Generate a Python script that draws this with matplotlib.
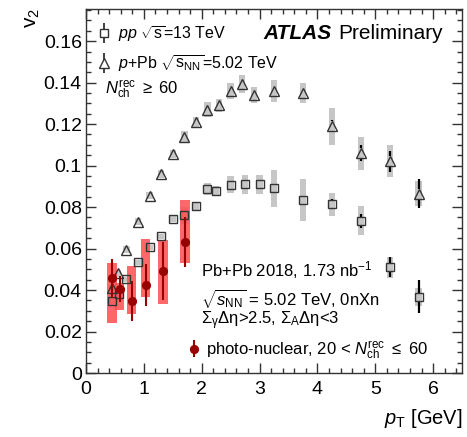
import numpy as np
import matplotlib
matplotlib.use("Agg")
import matplotlib.pyplot as plt
from matplotlib.patches import Rectangle
from matplotlib.ticker import MultipleLocator, FuncFormatter
from matplotlib.legend_handler import HandlerErrorbar

plt.rcParams['font.family'] = ['Liberation Sans', 'DejaVu Sans']
plt.rcParams['mathtext.fontset'] = 'custom'
plt.rcParams['mathtext.rm'] = 'Liberation Sans'
plt.rcParams['mathtext.it'] = 'Liberation Sans:italic'
plt.rcParams['mathtext.bf'] = 'Liberation Sans:bold'

# ---- data: pp 13 TeV, Nch_rec >= 60 ----
x_pp = [0.45, 0.575, 0.7, 0.9, 1.1, 1.3, 1.5, 1.7, 1.9, 2.1, 2.25, 2.5, 2.75, 3.0, 3.25, 3.75, 4.25, 4.75, 5.25, 5.75]
v2_pp = [0.0347, 0.038, 0.0453, 0.0535, 0.0607, 0.066, 0.0742, 0.076, 0.0805, 0.0887, 0.0878, 0.0908,
         0.091, 0.091, 0.089, 0.0834, 0.0814, 0.0733, 0.051, 0.0367]
stat_pp = [0.0005, 0.0005, 0.0005, 0.0005, 0.0005, 0.0005, 0.0005, 0.0005, 0.0005, 0.0006, 0.0006, 0.0007,
           0.0008, 0.0009, 0.001, 0.0012, 0.0025, 0.0036, 0.0048, 0.008]
sys_pp = [0.0015, 0.0015, 0.0012, 0.0012, 0.0012, 0.0012, 0.0015, 0.004, 0.002, 0.003, 0.0025, 0.004,
          0.0045, 0.0045, 0.009, 0.010, 0.0055, 0.007, 0.005, 0.0045]

# ---- data: p+Pb 5.02 TeV, Nch_rec >= 60 ----
x_ppb = [0.45, 0.55, 0.7, 0.9, 1.1, 1.3, 1.5, 1.7, 1.9, 2.1, 2.3, 2.5, 2.7, 2.9, 3.25, 3.75, 4.25, 4.75, 5.25, 5.75]
v2_ppb = [0.041, 0.048, 0.0595, 0.073, 0.0855, 0.096, 0.1055, 0.114, 0.121, 0.127, 0.129, 0.136,
          0.1395, 0.134, 0.136, 0.135, 0.119, 0.106, 0.102, 0.0865]
stat_ppb = [0.0004, 0.0004, 0.0004, 0.0004, 0.0004, 0.0004, 0.0005, 0.0005, 0.0005, 0.0006, 0.0006, 0.0007,
            0.0008, 0.0009, 0.001, 0.001, 0.003, 0.0038, 0.0052, 0.0068]
sys_ppb = [0.0015, 0.0015, 0.0015, 0.0015, 0.0017, 0.002, 0.002, 0.0025, 0.0025, 0.0035, 0.003, 0.004,
           0.0043, 0.004, 0.0053, 0.005, 0.009, 0.008, 0.0077, 0.006]

# ---- data: Pb+Pb photo-nuclear, 20 < Nch_rec <= 60 ----
x_pn = [0.45, 0.58, 0.79, 1.03, 1.33, 1.71]
v2_pn = [0.0457, 0.0405, 0.0347, 0.0424, 0.0492, 0.063]
stat_pn = [0.0095, 0.0065, 0.0097, 0.0103, 0.0138, 0.012]
sys_lo_pn = [0.0217, 0.0101, 0.0063, 0.0058, 0.0159, 0.010]
sys_hi_pn = [0.0073, 0.0029, 0.0168, 0.0222, 0.0148, 0.0204]

xticks = [0, 1, 2, 3, 4, 5, 6]
yticks = [0, 0.02, 0.04, 0.06, 0.08, 0.1, 0.12, 0.14, 0.16]

W, H = 467, 437
fig = plt.figure(figsize=(W / 100, H / 100), dpi=100)
ax_h_px = 373 - 9
ax = fig.add_axes([86 / W, 1 - 373 / H, (462 - 86) / W, ax_h_px / H])
YMAX = 0.1755
ax.set_xlim(0, 6.5)
ax.set_ylim(0, YMAX)
px_per_unit = ax_h_px / YMAX

gray_box = '#c6c6c6'
hw_gray = 0.055
hw_red = 0.08

for x, y, s in zip(x_pp, v2_pp, sys_pp):
    ax.add_patch(Rectangle((x - hw_gray, y - s), 2 * hw_gray, 2 * s, facecolor=gray_box, edgecolor='none', zorder=1))
for x, y, s in zip(x_ppb, v2_ppb, sys_ppb):
    ax.add_patch(Rectangle((x - hw_gray, y - s), 2 * hw_gray, 2 * s, facecolor=gray_box, edgecolor='none', zorder=1))
for x, y, lo, hi in zip(x_pn, v2_pn, sys_lo_pn, sys_hi_pn):
    ax.add_patch(Rectangle((x - hw_red, y - lo), 2 * hw_red, lo + hi, facecolor='#ff4d4d', alpha=0.85,
                           edgecolor='none', zorder=2))


def open_errorbars(xs, ys, errs, gap_px):
    """ROOT-style: stat error line drawn only outside the hollow marker."""
    gap = gap_px / px_per_unit
    for x, y, e in zip(xs, ys, errs):
        if e > gap:
            ax.vlines([x, x], [y + gap, y - e], [y + e, y - gap], colors='black', linewidth=1.6, zorder=3)


open_errorbars(x_pp, v2_pp, stat_pp, 4.2)
open_errorbars(x_ppb, v2_ppb, stat_ppb, 5.0)
ax.plot(x_pp, v2_pp, 's', ms=6.2, mfc='none', mec='#333333', mew=1.0, zorder=3)
ax.plot(x_ppb, v2_ppb, '^', ms=7, mfc='none', mec='#333333', mew=1.0, zorder=3)
eb_pn = ax.errorbar(x_pn, v2_pn, yerr=stat_pn, fmt='o', ms=5.6, color='#990000', mec='#990000',
                    ecolor='#990000', elinewidth=1.5, capsize=0, zorder=4)

# legend glyphs (hollow marker with error line)
h_pp = ax.errorbar([], [], yerr=[], fmt='s', ms=5.5, mfc='white', mec='#333333', mew=1.0,
                   ecolor='#333333', elinewidth=1.3, capsize=0)
h_ppb = ax.errorbar([], [], yerr=[], fmt='^', ms=6.5, mfc='white', mec='#333333', mew=1.0,
                    ecolor='#333333', elinewidth=1.3, capsize=0)

ax.set_xticks(xticks)
ax.set_yticks(yticks)
ax.xaxis.set_minor_locator(MultipleLocator(0.2))
ax.yaxis.set_minor_locator(MultipleLocator(0.005))
ax.yaxis.set_major_formatter(FuncFormatter(lambda v, p: '%g' % v))
ax.xaxis.set_major_formatter(FuncFormatter(lambda v, p: '%g' % v))
ax.tick_params(which='both', direction='in', top=True, right=True, width=1.0, color='#333333')
ax.tick_params(which='major', length=7)
ax.tick_params(which='minor', length=3.8)
ax.tick_params(axis='both', labelsize=14)
ax.tick_params(axis='x', pad=6)
ax.tick_params(axis='y', pad=3)
for sp in ax.spines.values():
    sp.set_linewidth(1.0)
    sp.set_color('#333333')

fig.text(33 / W, 1 - 8 / H, 'v$_2$', rotation=90, ha='center', va='top', fontsize=15)
fig.text(463 / W, 1 - 418 / H, r'$p_{\mathrm{T}}$ [GeV]', ha='right', va='center', fontsize=14.5)

hm = {type(h_pp): HandlerErrorbar(xerr_size=0.5, yerr_size=0.62)}
leg1 = ax.legend([h_pp, h_ppb],
                 [r'$pp$ $\sqrt{\mathrm{s}}$=13 TeV', r'$p$+Pb $\sqrt{\mathrm{s}_{\mathrm{NN}}}$=5.02 TeV'],
                 loc='upper left', bbox_to_anchor=(0.0, 0.99), frameon=False, fontsize=11.5,
                 handlelength=0.8, handletextpad=0.5, labelspacing=0.6, borderaxespad=0.3,
                 handler_map=hm)
ax.add_artist(leg1)
ax.text(0.05, 0.78, r'$N_{\mathrm{ch}}^{\mathrm{rec}}$ $\geq$ 60', transform=ax.transAxes,
        ha='left', va='center', fontsize=12)

ax.text(0.471, 0.934, 'ATLAS', transform=ax.transAxes, ha='left', va='center', fontsize=15,
        fontweight='bold', fontstyle='italic')
ax.text(0.672, 0.934, 'Preliminary', transform=ax.transAxes, ha='left', va='center', fontsize=15)

ax.text(0.306, 0.283, r'Pb+Pb 2018, 1.73 nb$^{\mathrm{-1}}$', transform=ax.transAxes, ha='left',
        va='center', fontsize=12)
ax.text(0.306, 0.206, r'$\sqrt{s_{\mathrm{NN}}}$ = 5.02 TeV, 0nXn', transform=ax.transAxes, ha='left',
        va='center', fontsize=12)
ax.text(0.306, 0.143, r'$\mathrm{\Sigma_{\gamma}\Delta\eta}$>2.5, $\mathrm{\Sigma_{A}\Delta\eta}$<3',
        transform=ax.transAxes, ha='left', va='center', fontsize=12)

leg2 = ax.legend([eb_pn], [r'photo-nuclear, 20 < $N_{\mathrm{ch}}^{\mathrm{rec}}$ $\leq$ 60'],
                 loc='center left', bbox_to_anchor=(0.255, 0.063), frameon=False, fontsize=12,
                 handlelength=0.6, handletextpad=0.45, borderaxespad=0.0)

fig.savefig('out.png', dpi=100)
